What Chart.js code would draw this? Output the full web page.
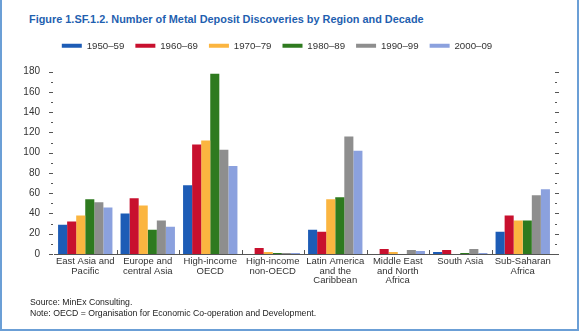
<!DOCTYPE html>
<html>
<head>
<meta charset="utf-8">
<script src="https://cdn.jsdelivr.net/npm/chart.js@4.4.1/dist/chart.umd.min.js"></script>
<style>
  html, body { margin: 0; padding: 0; background: #fff; }
  #frame {
    position: relative; width: 579px; height: 331px; box-sizing: border-box;
    border-left: 2px solid #6b9fd6; border-right: 2px solid #6b9fd6; border-bottom: 2px solid #6b9fd6;
    font-family: "Liberation Sans", Arial, sans-serif; overflow: hidden;
  }
  #title {
    position: absolute; left: 27px; top: 13px; font-weight: bold; font-size: 10.9px;
    color: #1f5fb0; white-space: nowrap;
  }
  #wrap { position: absolute; left: -2px; top: 0; width: 579px; height: 300px; }
  .note { position: absolute; left: 28px; font-size: 8.7px; color: #222; white-space: nowrap; }
</style>
</head>
<body>
<div id="frame">
  <div id="title">Figure 1.SF.1.2. Number of Metal Deposit Discoveries by Region and Decade</div>
  <div id="wrap"><canvas id="chart"></canvas></div>
  <div class="note" style="top:297px">Source: MinEx Consulting.</div>
  <div class="note" style="top:308px">Note: OECD = Organisation for Economic Co-operation and Development.</div>
</div>
<script>
// Regions and deposit counts per decade
const REGIONS = [
  ["East Asia and", "Pacific"],
  ["Europe and", "central Asia"],
  ["High-income", "OECD"],
  ["High-income", "non-OECD"],
  ["Latin America", "and the", "Caribbean"],
  ["Middle East", "and North", "Africa"],
  ["South Asia"],
  ["Sub-Saharan", "Africa"],
];
const DECADES = ["1950–59", "1960–69", "1970–79", "1980–89", "1990–99", "2000–09"];
const D1950 = [29, 40, 68, 0, 24, 0, 2, 22];
const D1960 = [32, 55, 108, 6, 22, 5, 4, 38];
const D1970 = [38, 48, 112, 2, 54, 2, 0, 33];
const D1980 = [54, 24, 178, 1, 56, 0, 1, 33];
const D1990 = [51, 33, 103, 1, 116, 4, 5, 58];
const D2000 = [46, 27, 87, 1, 102, 3, 1, 64];
const Y_MAX = 180;
const Y_STEP = 10;

const COLORS = ["#1d5cb6", "#c8102e", "#fbb540", "#2e7a1f", "#8e8e8e", "#8ba1de"];
const SERIES = [D1950, D1960, D1970, D1980, D1990, D2000];
const FONT = "'Liberation Sans', Arial, sans-serif";

// extra room between the legend row and the plot
const legendGap = {
  id: "legendGap",
  beforeLayout(chart) {
    const lg = chart.legend;
    if (!lg || lg._gapPatched) return;
    const fit = lg.fit;
    lg.fit = function () { fit.call(this); this.height += 11; };
    lg._gapPatched = true;
  },
};

// tick marks on both vertical edges and category separators on the baseline
const axisMarks = {
  id: "axisMarks",
  afterDraw(chart) {
    const { ctx, chartArea: a, scales } = chart;
    const y = scales.y, x = scales.x;
    ctx.save();
    ctx.strokeStyle = "#555";
    ctx.lineWidth = 1;
    ctx.beginPath();
    for (let v = 0; v <= Y_MAX; v += Y_STEP) {
      const py = Math.round(y.getPixelForValue(v)) + 0.5;
      const len = v % 20 === 0 ? 4 : 2;
      ctx.moveTo(a.left - len - 1, py); ctx.lineTo(a.left - 1, py);
      ctx.moveTo(a.right + 1, py); ctx.lineTo(a.right + 1 + len, py);
    }
    for (let i = 1; i < REGIONS.length; i++) {
      const px = Math.round((x.getPixelForTick(i - 1) + x.getPixelForTick(i)) / 2) + 0.5;
      ctx.moveTo(px, a.bottom); ctx.lineTo(px, a.bottom - 4);
    }
    ctx.stroke();
    ctx.restore();
  },
};

new Chart(document.getElementById("chart"), {
  type: "bar",
  data: {
    labels: REGIONS,
    datasets: DECADES.map((d, i) => ({
      label: d,
      data: SERIES[i],
      backgroundColor: COLORS[i],
      borderWidth: 0,
      categoryPercentage: 0.87,
      barPercentage: 1.0,
    })),
  },
  options: {
    responsive: true,
    maintainAspectRatio: false,
    animation: false,
    layout: { padding: { top: 30, right: 25, left: 0, bottom: 0 } },
    plugins: {
      tooltip: { enabled: false },
      legend: {
        position: "top",
        labels: {
          boxWidth: 20, boxHeight: 4, padding: 11, color: "#333",
          font: { family: FONT, size: 9.7 },
        },
      },
    },
    scales: {
      x: {
        grid: { display: true, drawOnChartArea: false, drawTicks: false },
        border: { display: true, color: "#555" },
        ticks: {
          padding: 3, maxRotation: 0, autoSkip: false, color: "#333",
          font: { family: FONT, size: 9.5, lineHeight: 1.0 },
        },
        afterFit: (s) => { s.height = 46; },
      },
      y: {
        min: 0, max: Y_MAX,
        grid: { display: false },
        border: { display: false },
        ticks: {
          stepSize: Y_STEP, padding: 6, color: "#333",
          font: { family: FONT, size: 10 },
          callback: (v) => (v % 20 === 0 ? v : ""),
        },
        afterFit: (s) => { s.width = 54; },
      },
    },
  },
  plugins: [legendGap, axisMarks],
});
</script>
</body>
</html>
